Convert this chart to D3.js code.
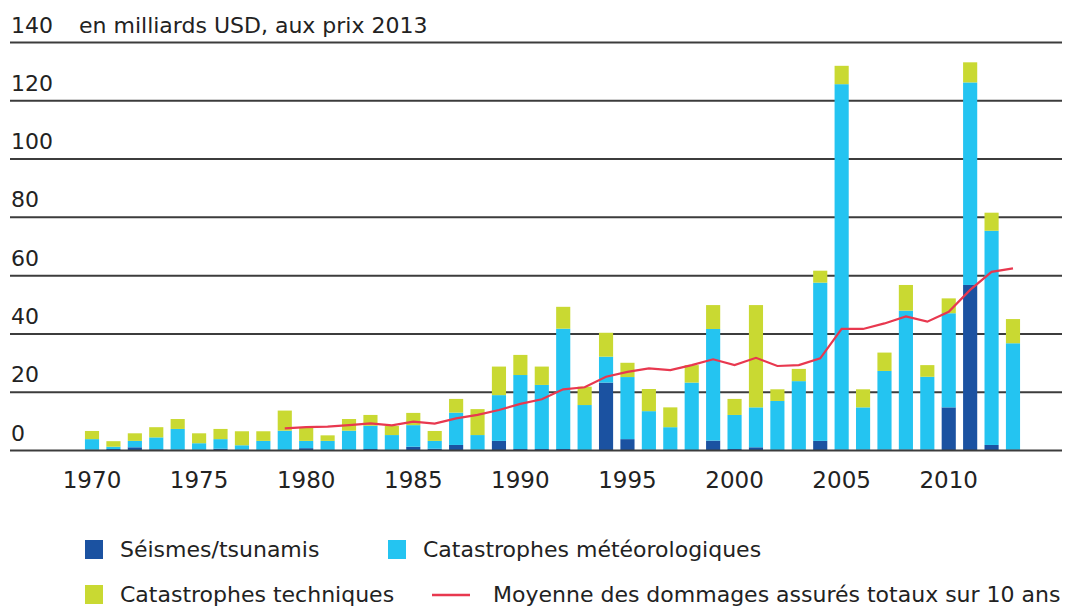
<!DOCTYPE html>
<html>
<head>
<meta charset="utf-8">
<script src="https://cdn.jsdelivr.net/npm/d3@7"></script>
<style>
  body { margin: 0; background: #fff; }
  svg text { font-family: "DejaVu Sans", sans-serif; fill: #222; }
</style>
</head>
<body>
<div id="chart"></div>
<script>
const years = d3.range(1970, 2014);

// en milliards USD, aux prix 2013
const seismes = [0.3, 0.5, 1.1, 0.4, 0.3, 0.3, 0.6, 0.3, 0.2, 0.2,
                 0.8, 0.2, 0.2, 0.5, 0.2, 1.3, 0.6, 1.9, 0.3, 3.3,
                 0.5, 0.5, 0.5, 0.2, 23.3, 3.9, 0.3, 0.3, 0.2, 3.4,
                 0.5, 1.1, 0.2, 0.3, 3.3, 0.3, 0.3, 0.3, 0.3, 0.3,
                 14.8, 56.8, 1.9, 0.3];
const meteo = [3.6, 0.8, 2.2, 4.1, 7.1, 2.2, 3.3, 1.5, 3.1, 6.6,
               2.5, 3.1, 6.6, 8.0, 5.1, 7.4, 2.7, 11.1, 5.0, 15.7,
               25.4, 22.0, 41.3, 15.4, 8.9, 21.3, 13.2, 7.7, 23.1, 38.3,
               11.7, 13.7, 16.8, 23.5, 54.3, 125.4, 14.5, 27.0, 47.7, 25.0,
               32.3, 69.5, 73.5, 36.5];
const techniques = [2.8, 1.9, 2.6, 3.5, 3.4, 3.4, 3.5, 4.8, 3.3, 6.9,
                    4.7, 1.9, 4.0, 3.7, 3.1, 4.2, 3.4, 4.7, 8.9, 9.8,
                    6.9, 6.3, 7.5, 6.3, 8.2, 4.9, 7.6, 6.8, 6.0, 8.2,
                    5.5, 35.1, 4.0, 4.2, 4.1, 6.3, 6.2, 6.3, 8.8, 4.0,
                    5.1, 6.9, 6.2, 8.3];

const avgYears = d3.range(1979, 2014);
const moyenne10 = [7.6, 8.0, 8.2, 8.7, 9.3, 8.6, 9.9, 9.2, 11.0, 12.2,
                   13.9, 16.0, 17.6, 21.0, 21.7, 25.3, 27.0, 28.2, 27.6, 29.3,
                   31.3, 29.3, 31.8, 29.0, 29.3, 31.6, 41.7, 41.7, 43.6, 46.0,
                   44.2, 47.6, 55.1, 61.3, 62.5];

const yTicks = [0, 20, 40, 60, 80, 100, 120, 140];
const xTickYears = [1970, 1975, 1980, 1985, 1990, 1995, 2000, 2005, 2010];

const keys = ["seismes", "meteo", "techniques"];
const labels = {
  seismes: "Séismes/tsunamis",
  meteo: "Catastrophes météorologiques",
  techniques: "Catastrophes techniques",
  moyenne: "Moyenne des dommages assurés totaux sur 10 ans"
};
const colors = { seismes: "#1b52a1", meteo: "#24c4f1", techniques: "#c9d932", moyenne: "#e8384f" };

const width = 1073;
const height = 607;

const svg = d3.select("#chart")
              .append("svg")
              .attr("width", width)
              .attr("height", height);

const rows = years.map((yr, i) => ({
  year: yr,
  seismes: seismes[i],
  meteo: meteo[i],
  techniques: techniques[i]
}));

const x = d3.scaleBand()
            .domain(years)
            .range([81.3, 1023.7])
            .paddingInner(0.34)
            .paddingOuter(0.17);

const y = d3.scaleLinear()
            .domain([0, 140])
            .range([450.5, 42.5]);

// gridlines + labels
const grid = svg.append("g");
grid.selectAll("line")
    .data(yTicks.filter(d => d > 0))
    .enter()
    .append("line")
    .attr("x1", 10)
    .attr("x2", 1062)
    .attr("y1", d => y(d))
    .attr("y2", d => y(d))
    .attr("stroke", "#3c3c3c")
    .attr("stroke-width", 2);

grid.selectAll("text")
    .data(yTicks)
    .enter()
    .append("text")
    .attr("x", 11)
    .attr("y", d => y(d) - 10)
    .style("font-size", "22px")
    .text(d => d);

svg.append("text")
   .attr("x", 79)
   .attr("y", y(140) - 10)
   .style("font-size", "22px")
   .text("en milliards USD, aux prix 2013");

// stacked bars
const stacked = d3.stack().keys(keys)(rows);

svg.append("g")
   .selectAll("g")
   .data(stacked)
   .enter()
   .append("g")
   .attr("fill", d => colors[d.key])
   .selectAll("rect")
   .data(d => d)
   .enter()
   .append("rect")
   .attr("x", d => x(d.data.year))
   .attr("width", x.bandwidth())
   .attr("y", d => y(d[1]))
   .attr("height", d => y(d[0]) - y(d[1]));

// zero line on top of the bars
svg.append("line")
   .attr("x1", 10)
   .attr("x2", 1062)
   .attr("y1", y(0))
   .attr("y2", y(0))
   .attr("stroke", "#3c3c3c")
   .attr("stroke-width", 2);

// 10 year average
const line = d3.line()
               .x((d, i) => x(avgYears[i]) + x.bandwidth() / 2)
               .y(d => y(d));

svg.append("path")
   .datum(moyenne10)
   .attr("fill", "none")
   .attr("stroke", colors.moyenne)
   .attr("stroke-width", 2.2)
   .attr("d", line);

// x axis labels
svg.append("g")
   .selectAll("text")
   .data(xTickYears)
   .enter()
   .append("text")
   .attr("x", d => x(d) + x.bandwidth() / 2)
   .attr("y", 488)
   .attr("text-anchor", "middle")
   .style("font-size", "23px")
   .text(d => d);

// legend
const legend = svg.append("g");
const items = [
  { key: "seismes", x: 85, y: 549 },
  { key: "meteo", x: 388, y: 549 },
  { key: "techniques", x: 85, y: 594 },
  { key: "moyenne", x: 432, y: 594 }
];

items.forEach(it => {
  if (it.key === "moyenne") {
    legend.append("line")
          .attr("x1", it.x)
          .attr("x2", it.x + 38)
          .attr("y1", it.y + 1)
          .attr("y2", it.y + 1)
          .attr("stroke", colors.moyenne)
          .attr("stroke-width", 2.5);
    legend.append("text")
          .attr("x", it.x + 61)
          .attr("y", it.y + 8)
          .style("font-size", "22px")
          .text(labels[it.key]);
  } else {
    legend.append("rect")
          .attr("x", it.x)
          .attr("y", it.y - 9)
          .attr("width", 18)
          .attr("height", 19)
          .attr("fill", colors[it.key]);
    legend.append("text")
          .attr("x", it.x + 35)
          .attr("y", it.y + 8)
          .style("font-size", "22px")
          .text(labels[it.key]);
  }
});
</script>
</body>
</html>
